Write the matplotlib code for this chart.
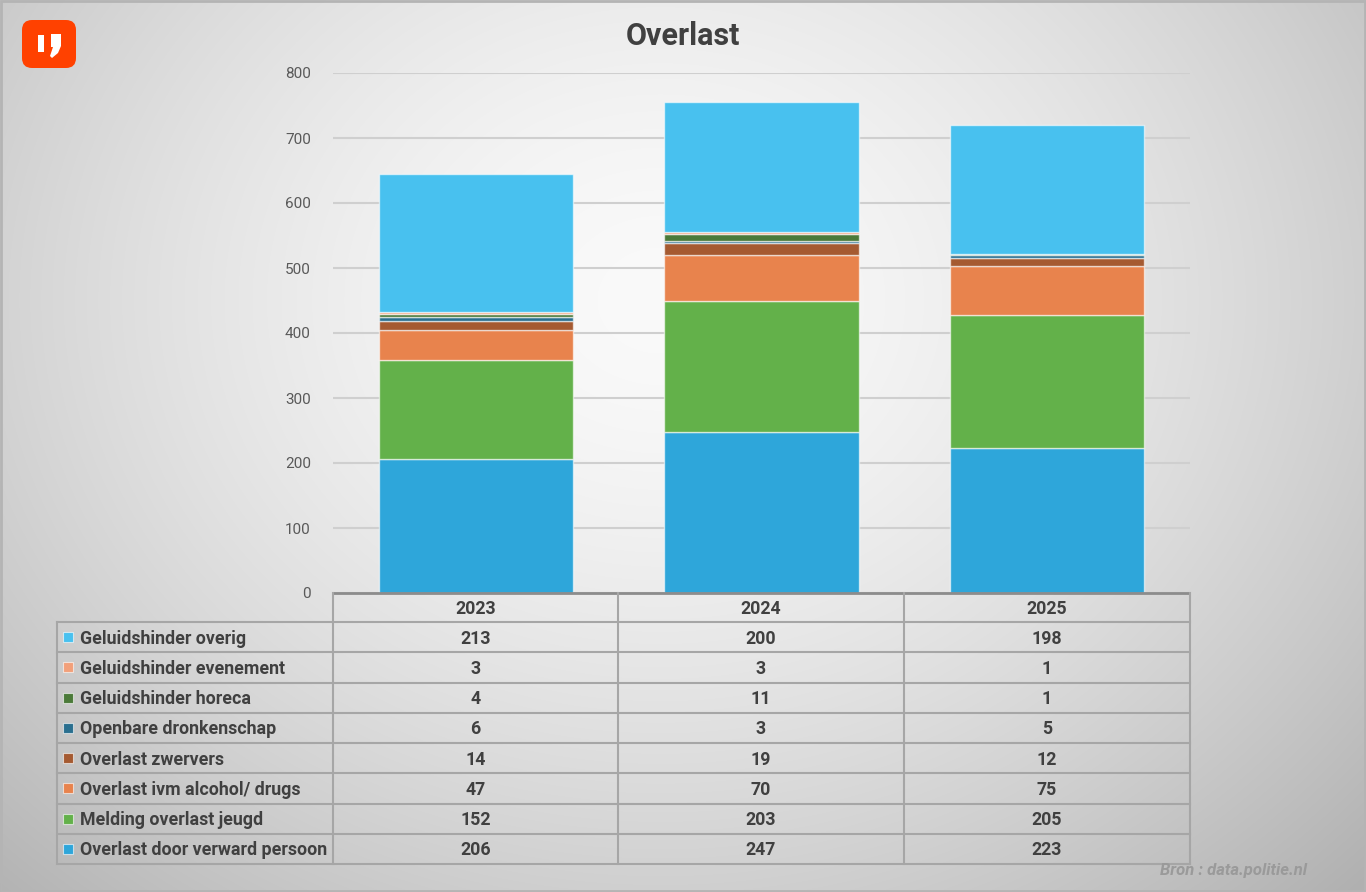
import numpy as np
import matplotlib
matplotlib.use("Agg")
import matplotlib.pyplot as plt
from matplotlib.patches import FancyBboxPatch, Rectangle, Polygon

plt.rcParams['font.family'] = ['Roboto', 'DejaVu Sans']

years = ["2023", "2024", "2025"]
# stacking order: bottom to top
series = [
    "Overlast door verward persoon",
    "Melding overlast jeugd",
    "Overlast ivm alcohol/ drugs",
    "Overlast zwervers",
    "Openbare dronkenschap",
    "Geluidshinder horeca",
    "Geluidshinder evenement",
    "Geluidshinder overig",
]
verward = [206, 247, 223]
jeugd = [152, 203, 205]
alcohol = [47, 70, 75]
zwervers = [14, 19, 12]
dronken = [6, 3, 5]
horeca = [4, 11, 1]
evenement = [3, 3, 1]
overig = [213, 200, 198]
values = [verward, jeugd, alcohol, zwervers, dronken, horeca, evenement, overig]
colors = ["#2EA6DA", "#63B14A", "#E8834D", "#A55A31", "#2A6F8F", "#4B7A39", "#F2A07A", "#48C1EF"]
yticks = [0, 100, 200, 300, 400, 500, 600, 700, 800]

W, H = 1366, 892
fig = plt.figure(figsize=(W / 100, H / 100), dpi=100)

# background gradient
bg = fig.add_axes([0, 0, 1, 1])
yy, xx = np.mgrid[0:H, 0:W]
d = np.sqrt(((xx - 660) / 760.0) ** 2 + ((yy - 300) / 640.0) ** 2)
v = 0.98 - 0.19 * np.clip(d, 0, 1.3) ** 1.6
img = np.dstack([v, v, v])
bg.imshow(img, extent=[0, W, H, 0], aspect='auto', interpolation='bilinear')
bg.set_xlim(0, W)
bg.set_ylim(H, 0)
bg.axis('off')

def px(x0, y0, x1, y1):
    return [x0 / W, 1 - y1 / H, (x1 - x0) / W, (y1 - y0) / H]

# chart
ax = fig.add_axes(px(333, 73, 1190, 593))
ax.set_facecolor('none')
x = np.arange(len(years))
bottom = np.zeros(len(years))
for vals, col in zip(values, colors):
    ax.bar(x, vals, bottom=bottom, width=0.68, color=col, edgecolor=(1, 1, 1, 0.6),
           linewidth=1.0, zorder=3)
    bottom += np.array(vals)
ax.set_xlim(-0.5, 2.5)
ax.set_ylim(0, 800)
ax.set_yticks(yticks)
ax.set_yticklabels([str(t) for t in yticks], fontsize=11, color="#595959")
ax.tick_params(axis='y', length=0, pad=16)
ax.set_xticks([])
ax.grid(axis='y', color="#CFCFCF", linewidth=1.5, zorder=0)
for s in ax.spines.values():
    s.set_visible(False)

# overlay for table, title, logo
ov = fig.add_axes([0, 0, 1, 1])
ov.set_xlim(0, W)
ov.set_ylim(H, 0)
ov.axis('off')
ov.patch.set_alpha(0)

ov.text(683, 36, "Overlast", ha='center', va='center', fontsize=22, fontweight='bold', color="#404040")

lc = "#A6A6A6"
lw = 1.5
cols_x = [333, 618, 904, 1190]
top, head_b = 593, 622
row_h = (864 - 622) / 8.0
rows_y = [head_b + i * row_h for i in range(9)]
# header
ov.plot([333, 1190], [top, top], color="#8C8C8C", lw=2, solid_capstyle='butt')
for cx in cols_x:
    ov.plot([cx, cx], [top, 864], color=lc, lw=lw)
for ry in rows_y:
    ov.plot([57, 1190], [ry, ry], color=lc, lw=lw)
ov.plot([57, 57], [head_b, 864], color=lc, lw=lw)

tc = "#404040"
fs = 12.8
for i, yr in enumerate(years):
    ov.text((cols_x[i] + cols_x[i + 1]) / 2, (top + head_b) / 2 + 1, yr, ha='center', va='center',
            fontsize=fs, fontweight='bold', color=tc)

table_order = list(range(len(series)))[::-1]
for r, si in enumerate(table_order):
    yc = (rows_y[r] + rows_y[r + 1]) / 2
    ov.add_patch(Rectangle((63, yc - 5), 10, 10, facecolor=colors[si], edgecolor=(1, 1, 1, 0.6), lw=0.8))
    ov.text(80, yc + 1.5, series[si], ha='left', va='center', fontsize=fs, fontweight='bold', color=tc)
    for i in range(len(years)):
        ov.text((cols_x[i] + cols_x[i + 1]) / 2, yc + 1.5, str(values[si][i]), ha='center', va='center',
                fontsize=fs, fontweight='bold', color=tc)

ov.text(1307, 870, "Bron : data.politie.nl", ha='right', va='center', fontsize=12,
        fontweight='bold', fontstyle='italic', color="#9A9A9A")

# logo
ov.add_patch(FancyBboxPatch((22 + 10, 20 + 10), 54 - 20, 48 - 20,
                            boxstyle="round,pad=10", facecolor="#FF4100", edgecolor='none'))
ov.add_patch(Rectangle((38, 35), 6, 17, facecolor='white', edgecolor='none'))
ov.add_patch(Polygon([(51, 34), (61, 34), (61, 46), (58, 53), (52, 58), (50, 56), (53, 47), (51, 47)],
                     closed=True, facecolor='white', edgecolor='none'))

# frame
ov.add_patch(Rectangle((1, 1), W - 2, H - 2, fill=False, edgecolor="#B4B4B4", lw=2))

fig.savefig("out.png", dpi=100)
